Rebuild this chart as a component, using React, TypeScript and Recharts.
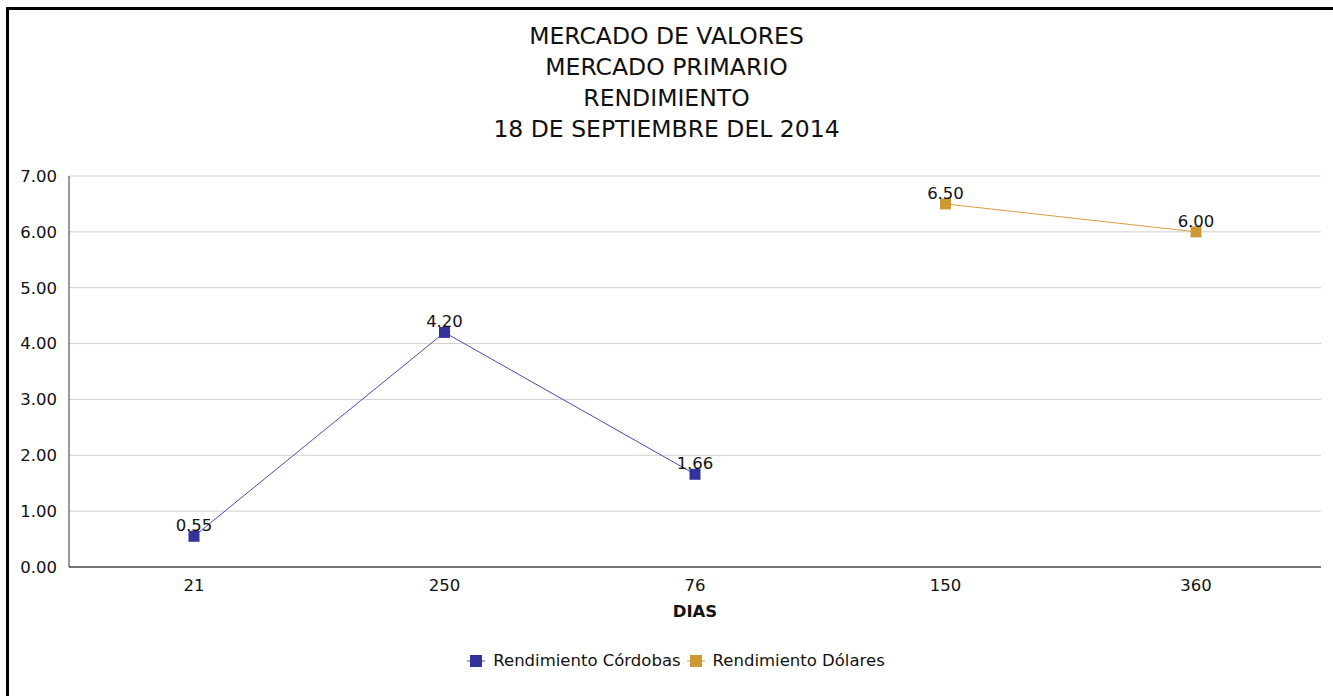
import { LineChart, Line, XAxis, YAxis, CartesianGrid, LabelList } from 'recharts';

const dias = ['21', '250', '76', '150', '360'];
const rendCordobas = [0.55, 4.2, 1.66, null, null];
const rendDolares = [null, null, null, 6.5, 6.0];
const yTicks = [0, 1, 2, 3, 4, 5, 6, 7];
const titleLines = ['MERCADO DE VALORES', 'MERCADO PRIMARIO', 'RENDIMIENTO', '18 DE SEPTIEMBRE DEL 2014'];

const series = [
  { key: 'cordobas', name: 'Rendimiento Córdobas', line: '#4a4ab0', fill: '#333399' },
  { key: 'dolares', name: 'Rendimiento Dólares', line: '#d6a041', fill: '#cc9933' },
];

const data = dias.map((d, i) => ({ dia: d, cordobas: rendCordobas[i], dolares: rendDolares[i] }));

const font = '"DejaVu Sans", Verdana, sans-serif';
const fs = 16.5;

const squareDot = (fill: string) => (props: any) => {
  const { cx, cy, value, index } = props;
  if (value == null || cy == null) return <g key={`d-${index}`} />;
  return <rect key={`d-${index}`} x={cx - 5.5} y={cy - 5.5} width={11} height={11} fill={fill} />;
};

export default function App() {
  return (
    <div style={{ position: 'absolute', left: 0, top: 0, width: 1333, height: 696, overflow: 'hidden', background: '#fff', fontFamily: font }}>
      {/* frame: only top and left edges are visible in the original */}
      <div style={{ position: 'absolute', left: 6, top: 7, width: 3, height: 689, background: '#000' }} />
      <div style={{ position: 'absolute', left: 6, top: 7, width: 1327, height: 3, background: '#000' }} />
      <div style={{ position: 'absolute', left: 0, top: 21, width: 1333, textAlign: 'center', fontSize: 23.5, lineHeight: '31px', color: '#111' }}>
        {titleLines.map((t) => (
          <div key={t}>{t}</div>
        ))}
      </div>
      <div style={{ position: 'absolute', left: 0, top: 0 }}>
        <LineChart width={1333} height={696} data={data} margin={{ top: 176, right: 12, bottom: 79, left: 9 }}>
          <CartesianGrid vertical={false} stroke="#d0d0d0" />
          <XAxis
            dataKey="dia"
            padding={{ left: 125, right: 125 }}
            tickLine={false}
            tickSize={0}
            tickMargin={12}
            height={50}
            stroke="#000"
            tick={{ fill: '#111', fontSize: fs, fontFamily: font }}
            label={{ value: 'DIAS', position: 'insideBottom', offset: 0, fill: '#111', fontSize: fs, fontWeight: 'bold', fontFamily: font }}
          />
          <YAxis
            domain={[0, 7]}
            ticks={yTicks}
            width={60}
            tickLine={false}
            tickSize={0}
            tickMargin={12}
            stroke="#333"
            tickFormatter={(v: number) => v.toFixed(2)}
            tick={{ fill: '#111', fontSize: fs, fontFamily: font }}
          />
          {series.map((s) => (
            <Line
              key={s.key}
              dataKey={s.key}
              name={s.name}
              stroke={s.line}
              strokeWidth={1}
              dot={squareDot(s.fill)}
              activeDot={false}
              isAnimationActive={false}
            >
              <LabelList
                dataKey={s.key}
                position="top"
                offset={5}
                fill="#111"
                fontSize={fs}
                fontFamily={font}
                formatter={(v: any) => (v == null ? '' : Number(v).toFixed(2))}
              />
            </Line>
          ))}
        </LineChart>
      </div>
      <div style={{ position: 'absolute', left: 0, top: 651, width: 1358, display: 'flex', justifyContent: 'center', fontSize: fs, color: '#111' }}>
        {series.map((s) => (
          <div key={s.key} style={{ display: 'flex', alignItems: 'center', marginRight: 6 }}>
            <svg width={18} height={14} style={{ marginRight: 8 }}>
              <line x1={0} y1={7} x2={18} y2={7} stroke={s.line} strokeWidth={1} />
              <rect x={3} y={1} width={12} height={12} fill={s.fill} />
            </svg>
            <span>{s.name}</span>
          </div>
        ))}
      </div>
    </div>
  );
}
